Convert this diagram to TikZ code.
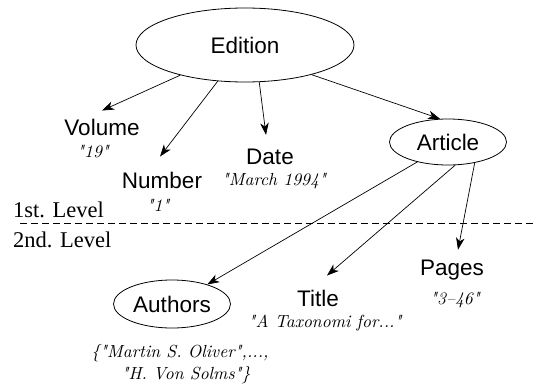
\documentclass[tikz,border=0pt]{standalone}
\usepackage{fontspec}
\newfontfamily\lsans{Liberation Sans}
\newfontfamily\lserif{Liberation Serif}
\newfontfamily\cmit{lmroman10-italic}[Extension=.otf]
\usetikzlibrary{arrows.meta,shapes.geometric}
\begin{document}
\begin{tikzpicture}[x=1pt,y=-1pt,
 lab/.style={font=\lsans\fontsize{22.5}{26}\selectfont, inner sep=0pt},
 val/.style={font=\cmit\fontsize{17.5}{21}\selectfont, inner sep=0pt},
 ell/.style={draw, ellipse, inner sep=0pt, line width=0.8pt},
 arr/.style={-{Stealth[length=12pt,width=8.5pt,inset=3.5pt]}, line width=0.7pt},
 lev/.style={font=\lserif\fontsize{22.5}{26}\selectfont, inner sep=0pt, anchor=west}]
\useasboundingbox (0,0) rectangle (537,388);
% nodes
\node[ell, lab, minimum width=218pt, minimum height=74pt] (ed) at (245,45) {Edition};
\node[ell, lab, minimum width=117pt, minimum height=46pt] (art) at (448,142) {Article};
\node[ell, lab, minimum width=117pt, minimum height=48pt] (aut) at (172,304) {Authors};
\node[lab] (vol) at (102,127) {Volume};
\node[val] (volv) at (93,152) {"19"};
\node[lab] (num) at (162,180) {Number};
\node[val] (numv) at (158,205) {"1"};
\node[lab] (date) at (270,157) {Date};
\node[val] (datev) at (274,181) {"March 1994"};
\node[lab] (pag) at (452,270) {Pages};
\node[val] (pagv) at (455,300) {"3–46"};
\node[lab] (tit) at (318,298) {Title};
\node[val] (titv) at (325,323) {"A Taxonomi for..."};
\node[val] (autv1) at (180,353) {\{"Martin S. Oliver",...,};
\node[val] (autv2) at (186,375) {"H. Von Solms"\}};
\node[lev] (l1) at (13,210) {1st. Level};
\node[lev] (l2) at (13,240) {2nd. Level};
% level separator
\coordinate (sepL) at (20,223);
\coordinate (sepR) at (537,223);
\draw[dash pattern=on 7pt off 4pt, line width=0.6pt] (sepL) -- (sepR);
% connectors
\draw[arr] (ed.205) -- ([yshift=8pt]vol.north);
\draw[arr] (ed.233) -- ([xshift=-2pt,yshift=15pt]num.north);
\draw[arr] (ed.291) -- ([xshift=-4pt,yshift=14pt]date.north);
\draw[arr] (ed.336) -- (art.109);
\draw[arr] (art.213) -- (aut.29);
\draw[arr] (art.287) -- ([xshift=9pt,yshift=14pt]tit.north);
\draw[arr] (art.322) -- ([xshift=6pt,yshift=10pt]pag.north);
\end{tikzpicture}
\end{document}
